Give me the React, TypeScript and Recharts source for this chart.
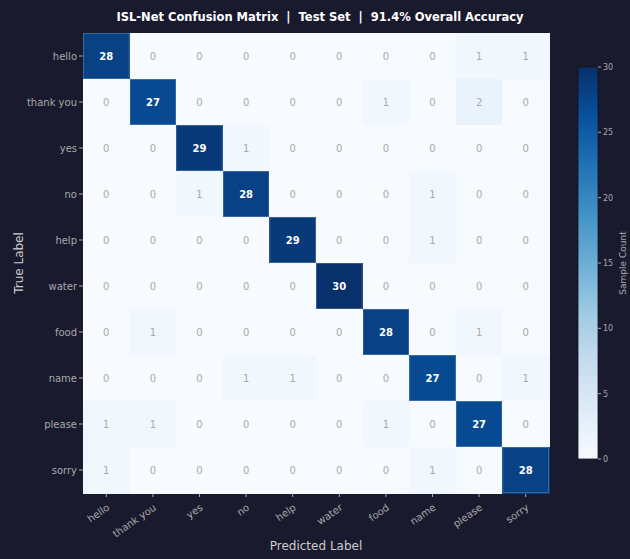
import React from 'react';
import {
  ScatterChart, Scatter, XAxis, YAxis, BarChart, Bar,
} from 'recharts';

const labels = ['hello', 'thank you', 'yes', 'no', 'help', 'water', 'food', 'name', 'please', 'sorry'];

// rows = true label, columns = predicted label
const rowHello = [28, 0, 0, 0, 0, 0, 0, 0, 1, 1];
const rowThankYou = [0, 27, 0, 0, 0, 0, 1, 0, 2, 0];
const rowYes = [0, 0, 29, 1, 0, 0, 0, 0, 0, 0];
const rowNo = [0, 0, 1, 28, 0, 0, 0, 1, 0, 0];
const rowHelp = [0, 0, 0, 0, 29, 0, 0, 1, 0, 0];
const rowWater = [0, 0, 0, 0, 0, 30, 0, 0, 0, 0];
const rowFood = [0, 1, 0, 0, 0, 0, 28, 0, 1, 0];
const rowName = [0, 0, 0, 1, 1, 0, 0, 27, 0, 1];
const rowPlease = [1, 1, 0, 0, 0, 0, 1, 0, 27, 0];
const rowSorry = [1, 0, 0, 0, 0, 0, 0, 1, 0, 28];

const matrix = [rowHello, rowThankYou, rowYes, rowNo, rowHelp, rowWater, rowFood, rowName, rowPlease, rowSorry];
const colorbarTicks = [0, 5, 10, 15, 20, 25, 30];
const maxCount = 30;

const BG = '#1a1a2e';
const FONT = '"DejaVu Sans", sans-serif';

// matplotlib "Blues"
const BLUES = ['#f7fbff', '#deebf7', '#c6dbef', '#9ecae1', '#6baed6', '#4292c6', '#2171b5', '#08519c', '#08306b'];

const hexToRgb = (h: string) => [1, 3, 5].map((i) => parseInt(h.slice(i, i + 2), 16));
const blues = (t: number) => {
  const p = Math.max(0, Math.min(1, t)) * (BLUES.length - 1);
  const i = Math.min(Math.floor(p), BLUES.length - 2);
  const f = p - i;
  const a = hexToRgb(BLUES[i]);
  const b = hexToRgb(BLUES[i + 1]);
  const c = a.map((v, k) => Math.round(v + (b[k] - v) * f));
  return `rgb(${c[0]},${c[1]},${c[2]})`;
};

const cells = matrix.flatMap((row, i) => row.map((v, j) => ({ x: j, y: i, v })));

const W = 630;
const H = 559;
const margin = { top: 33, right: 81, bottom: 0, left: 0 };
const Y_AXIS_W = 83;
const X_AXIS_H = 66;
const PLOT_W = W - margin.left - margin.right - Y_AXIS_W;
const PLOT_H = H - margin.top - margin.bottom - X_AXIS_H;
const cellW = PLOT_W / labels.length;
const cellH = PLOT_H / labels.length;

const CellShape = (props: any) => {
  const { cx, cy, payload } = props;
  const dark = payload.v > maxCount / 2;
  return (
    <g>
      <rect
        x={cx - cellW / 2}
        y={cy - cellH / 2}
        width={cellW + 0.6}
        height={cellH + 0.6}
        fill={blues(payload.v / maxCount)}
        shapeRendering="crispEdges"
      />
      {dark && (
        <rect
          x={cx - cellW / 2 + 0.5}
          y={cy - cellH / 2 + 0.5}
          width={cellW - 1}
          height={cellH - 1}
          fill="none"
          stroke="rgba(255,255,255,0.25)"
          strokeWidth={0.8}
        />
      )}
      <text
        x={cx}
        y={cy}
        dy="0.35em"
        textAnchor="middle"
        fontSize={10}
        fontFamily={FONT}
        fontWeight={dark ? 'bold' : 'normal'}
        fill={dark ? '#ffffff' : '#a9a9a9'}
      >
        {payload.v}
      </text>
    </g>
  );
};

const XTick = (props: any) => {
  const { x, y, payload } = props;
  return (
    <text
      x={x + 4}
      y={y + 10}
      textAnchor="end"
      fontSize={10}
      fontFamily={FONT}
      fill="#a9a9a9"
      transform={`rotate(-35, ${x + 4}, ${y + 10})`}
    >
      {labels[payload.value]}
    </text>
  );
};

const App: React.FC = () => {
  return (
    <div style={{ position: 'fixed', left: 0, top: 0, width: W, height: H, background: BG }}>
      <div style={{ position: 'absolute', left: 0, top: 0 }}>
        <ScatterChart width={W} height={H} margin={margin}>
          <text
            x={320}
            y={17}
            dy="0.35em"
            textAnchor="middle"
            fontSize={11.5}
            fontWeight="bold"
            fontFamily={FONT}
            fill="#ffffff"
            style={{ whiteSpace: 'pre' }}
          >
            {'ISL-Net Confusion Matrix  |  Test Set  |  91.4% Overall Accuracy'}
          </text>
          <XAxis
            type="number"
            dataKey="x"
            domain={[-0.5, labels.length - 0.5]}
            ticks={labels.map((_, i) => i)}
            interval={0}
            height={X_AXIS_H}
            axisLine={false}
            tickLine={{ stroke: '#a9a9a9' }}
            tickSize={4}
            tick={<XTick />}
            label={{
              content: (p: any) => {
                const vb = p.viewBox;
                return (
                  <text
                    x={vb.x + vb.width / 2}
                    y={vb.y + vb.height - 13}
                    dy="0.35em"
                    textAnchor="middle"
                    fontSize={12}
                    fontFamily={FONT}
                    fill="#cccccc"
                  >
                    Predicted Label
                  </text>
                );
              },
            }}
          />
          <YAxis
            type="number"
            dataKey="y"
            reversed
            domain={[-0.5, labels.length - 0.5]}
            ticks={labels.map((_, i) => i)}
            interval={0}
            width={Y_AXIS_W}
            axisLine={false}
            tickLine={{ stroke: '#a9a9a9' }}
            tickSize={4}
            tickFormatter={(v: number) => labels[v]}
            tick={{ fill: '#a9a9a9', fontSize: 10, fontFamily: FONT }}
            label={{
              content: (p: any) => {
                const vb = p.viewBox;
                const cx = 19;
                const cy = vb.y + vb.height / 2;
                return (
                  <text
                    x={cx}
                    y={cy}
                    dy="0.35em"
                    textAnchor="middle"
                    fontSize={12}
                    fontFamily={FONT}
                    fill="#cccccc"
                    transform={`rotate(-90, ${cx}, ${cy})`}
                  >
                    True Label
                  </text>
                );
              },
            }}
          />
          <Scatter data={cells} shape={<CellShape />} isAnimationActive={false} />
        </ScatterChart>
      </div>
      <div style={{ position: 'absolute', left: 570, top: 0 }}>
        <BarChart
          width={60}
          height={H}
          data={[{ v: maxCount }]}
          margin={{ top: 67, right: 0, bottom: 100, left: 8 }}
          barCategoryGap={0}
        >
          <defs>
            <linearGradient id="bluesGrad" x1="0" y1="1" x2="0" y2="0">
              {BLUES.map((c, i) => (
                <stop key={c} offset={`${(i / (BLUES.length - 1)) * 100}%`} stopColor={c} />
              ))}
            </linearGradient>
          </defs>
          <XAxis hide />
          <YAxis
            orientation="right"
            domain={[0, maxCount]}
            ticks={colorbarTicks}
            width={32}
            axisLine={false}
            tickLine={{ stroke: '#a9a9a9' }}
            tickSize={3}
            tick={{ fill: '#a9a9a9', fontSize: 8, fontFamily: FONT }}
            label={{
              content: (p: any) => {
                const vb = p.viewBox;
                const x = 623 - 570;
                const cy = vb.y + vb.height / 2;
                return (
                  <text
                    x={x}
                    y={cy}
                    dy="0.35em"
                    textAnchor="middle"
                    fontSize={9}
                    fontFamily={FONT}
                    fill="#a9a9a9"
                    transform={`rotate(-90, ${x}, ${cy})`}
                  >
                    Sample Count
                  </text>
                );
              },
            }}
          />
          <Bar dataKey="v" fill="url(#bluesGrad)" stroke="#111122" strokeWidth={0.8} isAnimationActive={false} />
        </BarChart>
      </div>
    </div>
  );
};

export default App;
